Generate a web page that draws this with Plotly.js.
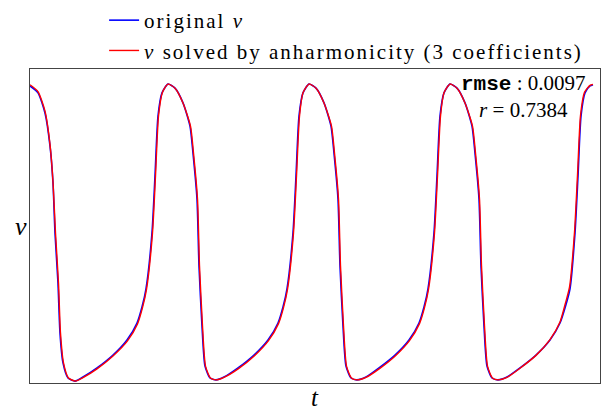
<!DOCTYPE html>
<html>
<head>
<meta charset="utf-8">
<script src="https://cdn.plot.ly/plotly-3.0.1.min.js"></script>
<style>html,body{margin:0;padding:0;background:#fff;}#chart{width:602px;height:409px;}</style>
</head>
<body>
<div id="chart"></div>
<script>
// time samples (arbitrary units) and membrane variable v (normalised)
const tOrig = [0, 8, 15, 20, 23, 25, 28, 30, 33, 38, 45, 53, 67, 83, 97, 107, 112, 116, 122, 125, 128, 132, 138, 145, 153, 160, 163, 167, 169, 172, 175, 180, 186,
  194, 208, 224, 238, 248, 253, 257, 263, 266, 269, 273, 279, 286, 294, 301, 304, 308, 310, 313, 316, 321, 327,
  336, 349, 365, 379, 389, 394, 398, 404, 407, 410, 414, 420, 427, 435, 442, 445, 449, 451, 454, 457, 462, 468,
  477, 490, 506, 520, 530, 536, 540, 545, 548, 551, 555, 560, 563];
const vOrig = [0.946, 0.924, 0.860, 0.755, 0.637, 0.478, 0.318, 0.159, 0.064, 0.016, 0.006, 0.019, 0.048, 0.089, 0.137, 0.191, 0.242, 0.300, 0.478, 0.659, 0.850, 0.924, 0.952, 0.939, 0.892, 0.818, 0.732, 0.586, 0.373, 0.182, 0.054, 0.016, 0.010,
  0.019, 0.048, 0.089, 0.137, 0.191, 0.242, 0.300, 0.478, 0.659, 0.850, 0.924, 0.952, 0.939, 0.892, 0.818, 0.732, 0.586, 0.373, 0.182, 0.054, 0.016, 0.010,
  0.019, 0.048, 0.089, 0.137, 0.191, 0.242, 0.300, 0.478, 0.659, 0.850, 0.924, 0.952, 0.939, 0.892, 0.818, 0.732, 0.586, 0.373, 0.182, 0.054, 0.016, 0.010,
  0.019, 0.048, 0.089, 0.137, 0.191, 0.250, 0.300, 0.478, 0.659, 0.850, 0.924, 0.946, 0.950];
const tSolved = [0, 8, 15, 20, 23, 25.5, 28.5, 30.5, 33.5, 38.5, 45.5, 53, 67, 83, 97.5, 107.5, 112.5, 116.5, 122.5, 125.5, 128.5, 132.5, 138, 145, 153, 160.5, 163.5, 167.5, 169.5, 172.5, 175.5, 180.5, 186,
  194, 208.5, 224.5, 238.5, 248.5, 253.5, 257.5, 263.5, 266.5, 269.5, 273, 279, 286, 294, 301.5, 304.5, 308.5, 310.5, 313.5, 316.5, 321.5, 327,
  336, 349.5, 365.5, 379.5, 389.5, 394.5, 398.5, 404.5, 407.5, 410.5, 414, 420, 427, 435, 442.5, 445.5, 449.5, 451.5, 454.5, 457.5, 462.5, 468,
  477, 490, 506, 520, 530, 535.5, 539.5, 544.5, 547.5, 550.5, 554.5, 560, 563];
const vSolved = [0.950, 0.928, 0.866, 0.760, 0.640, 0.478, 0.318, 0.159, 0.064, 0.016, 0.006, 0.017, 0.045, 0.086, 0.134, 0.188, 0.240, 0.298, 0.478, 0.659, 0.850, 0.926, 0.952, 0.939, 0.892, 0.818, 0.732, 0.586, 0.373, 0.182, 0.054, 0.016, 0.010,
  0.018, 0.046, 0.087, 0.135, 0.189, 0.240, 0.298, 0.478, 0.659, 0.850, 0.924, 0.952, 0.939, 0.892, 0.818, 0.732, 0.586, 0.373, 0.182, 0.054, 0.016, 0.010,
  0.018, 0.046, 0.087, 0.135, 0.189, 0.240, 0.298, 0.478, 0.659, 0.850, 0.924, 0.952, 0.939, 0.892, 0.818, 0.732, 0.586, 0.373, 0.182, 0.054, 0.016, 0.010,
  0.018, 0.047, 0.088, 0.138, 0.194, 0.255, 0.305, 0.480, 0.662, 0.852, 0.926, 0.948, 0.951];
const seriesNames = ['original <i>v</i>', '<i>v</i> solved by anharmonicity (3 coefficients)'];
const rmseText = '0.0097';
const rText = '0.7384';

const serif = 'Liberation Serif, DejaVu Serif, serif';
const spaced = s => '<span style="letter-spacing:2px">' + s + '</span>';
const traces = [
  {x: tOrig, y: vOrig, type: 'scatter', mode: 'lines', name: spaced(seriesNames[0]),
   line: {color: '#0000ff', width: 1.6, shape: 'spline', smoothing: 0.6}},
  {x: tSolved, y: vSolved, type: 'scatter', mode: 'lines', name: spaced(seriesNames[1]),
   line: {color: '#ff0000', width: 1.4, shape: 'spline', smoothing: 0.6}}
];
const layout = {
  width: 602, height: 409,
  margin: {l: 30, r: 2, t: 69, b: 26, pad: 0, autoexpand: false},
  paper_bgcolor: '#ffffff', plot_bgcolor: '#ffffff',
  showlegend: true,
  legend: {x: 0.13, xanchor: 'left', yref: 'container', y: 1.017, yanchor: 'top', bgcolor: 'rgba(0,0,0,0)',
    font: {family: serif, size: 21, color: '#000'}, tracegroupgap: 0, itemwidth: 30},
  xaxis: {range: [0, 570], showticklabels: false, ticks: '', showgrid: false, zeroline: false,
    showline: true, mirror: true, linecolor: '#444', linewidth: 1.2, fixedrange: true},
  yaxis: {range: [0, 1], showticklabels: false, ticks: '', showgrid: false, zeroline: false,
    showline: true, mirror: true, linecolor: '#444', linewidth: 1.2, fixedrange: true},
  annotations: [
    {xref: 'paper', yref: 'paper', x: -0.03, y: 0.5, text: '<i>v</i>', showarrow: false,
     font: {family: serif, size: 26, color: '#000'}},
    {xref: 'paper', yref: 'paper', x: 0.5, y: 0, yanchor: 'top', yshift: 1, text: '<i>t</i>', showarrow: false,
     font: {family: serif, size: 25, color: '#000'}},
    {xref: 'paper', yref: 'paper', x: 0.866, xanchor: 'center', y: 1.0, yanchor: 'top', align: 'center', showarrow: false,
     text: '<span style="font-family:Liberation Mono;font-weight:bold">rmse</span> : ' + rmseText + '<br><i>r</i> = ' + rText,
     font: {family: serif, size: 21, color: '#000'}}
  ]
};
Plotly.newPlot('chart', traces, layout, {staticPlot: true, displayModeBar: false});
</script>
</body>
</html>
